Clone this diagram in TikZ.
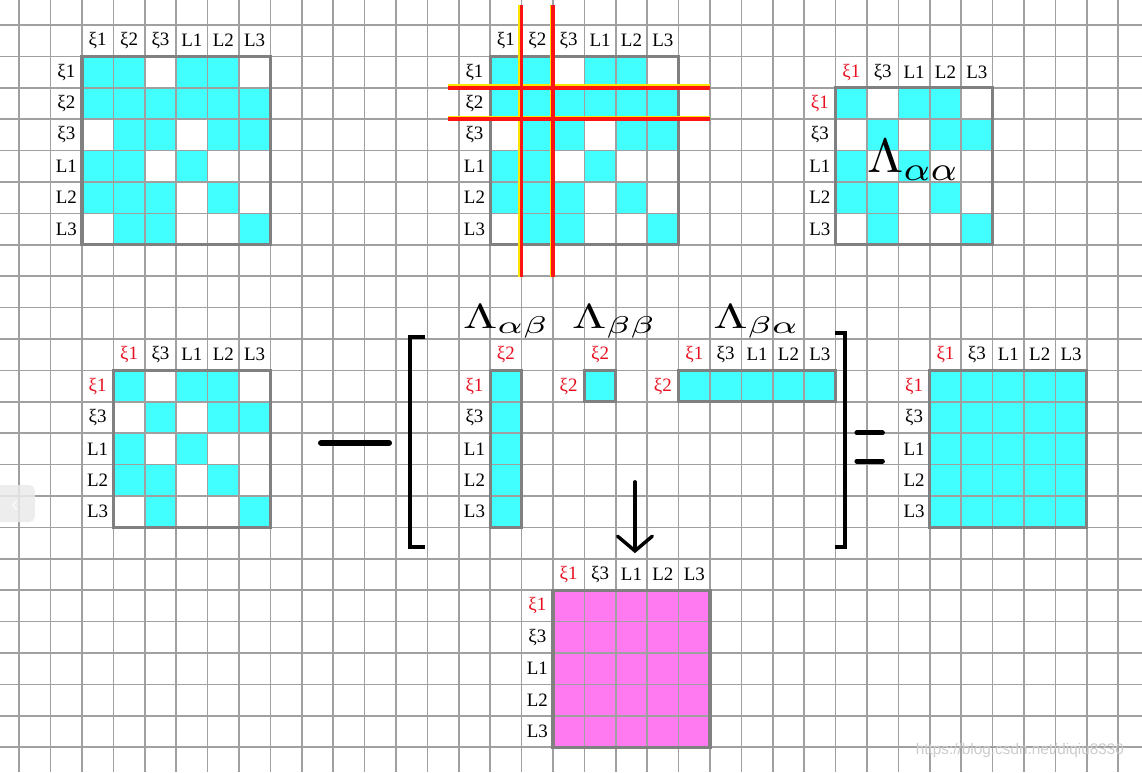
\documentclass[tikz,border=0pt]{standalone}
\usepackage{graphicx}
\usepackage{fontspec}
\newfontfamily\labfont{Liberation Serif}
\newfontfamily\markfont{Liberation Sans}
\usetikzlibrary{arrows.meta}

\definecolor{cellcyan}{RGB}{66,255,255}
\definecolor{cellpink}{RGB}{255,121,240}
\definecolor{gridgray}{RGB}{160,160,160}
\definecolor{boxgray}{RGB}{128,128,128}
\definecolor{labred}{RGB}{232,16,32}
\definecolor{cutred}{RGB}{255,20,20}
\definecolor{cutyellow}{RGB}{255,228,0}

% fill the 1-cells of a pattern: x, y of the top left cell, colour, rows
\newcommand{\cellfill}[4]{%
  \foreach \row [count=\j from 0] in {#4}{
    \foreach \v [count=\i from 0] in \row {
      \ifnum\v=1 \fill[#3] (#1+\i,#2+\j) rectangle ++(1,1); \fi
    }}}

\begin{document}
\begin{tikzpicture}[
  x=23.55pt, y=-23.55pt,
  gridline/.style={draw=gridgray, line width=1.2pt},
  matbox/.style={draw=boxgray, line width=2.4pt},
  lab/.style={font=\labfont\fontsize{14.2}{15}\selectfont, inner sep=0pt},
  cut/.style={draw=cutred, line width=2.8pt},
  cutshade/.style={draw=cutyellow, line width=1.4pt},
  bigsym/.style={line width=4.4pt, line cap=round},
  brack/.style={line width=3pt},
  lam/.style={inner sep=0pt, anchor=base west},
]
\fill[white] (-0.611,-0.796) rectangle (35.758,23.79);
\useasboundingbox (-0.611,-0.796) rectangle (35.758,23.79);

% coloured cells
\cellfill{2}{1}{cellcyan}{{1,1,0,1,1,0},{1,1,1,1,1,1},{0,1,1,0,1,1},{1,1,0,1,0,0},{1,1,1,0,1,0},{0,1,1,0,0,1}}
\cellfill{15}{1}{cellcyan}{{1,1,0,1,1,0},{1,1,1,1,1,1},{0,1,1,0,1,1},{1,1,0,1,0,0},{1,1,1,0,1,0},{0,1,1,0,0,1}}
\cellfill{26}{2}{cellcyan}{{1,0,1,1,0},{0,1,0,1,1},{1,0,1,0,0},{1,1,0,1,0},{0,1,0,0,1}}
\cellfill{3}{11}{cellcyan}{{1,0,1,1,0},{0,1,0,1,1},{1,0,1,0,0},{1,1,0,1,0},{0,1,0,0,1}}
\fill[cellcyan] (15,11) rectangle (16,16);
\fill[cellcyan] (18,11) rectangle (19,12);
\fill[cellcyan] (21,11) rectangle (26,12);
\fill[cellcyan] (29,11) rectangle (34,16);
\fill[cellpink] (17,18) rectangle (22,23);

% paper grid
\foreach \i in {0,...,35} \draw[gridline] (\i,-0.796) -- (\i,23.79);
\foreach \j in {0,...,23} \draw[gridline] (-0.611,\j) -- (35.758,\j);

% matrix frames
\draw[matbox] (2,1) rectangle (8,7);
\draw[matbox] (15,1) rectangle (21,7);
\draw[matbox] (26,2) rectangle (31,7);
\draw[matbox] (3,11) rectangle (8,16);
\draw[matbox] (15,11) rectangle (16,16);
\draw[matbox] (18,11) rectangle (19,12);
\draw[matbox] (21,11) rectangle (26,12);
\draw[matbox] (29,11) rectangle (34,16);
\draw[matbox] (17,18) rectangle (22,23);

% cut lines through xi2
\foreach \c in {16,17}
  \draw[cutshade] ([xshift=-1.8pt]\c,-0.64) -- ([xshift=-1.8pt]\c,8.03);
\foreach \r in {2,3}
  \draw[cutshade] ([yshift=1.8pt]13.66,\r) -- ([yshift=1.8pt]22.0,\r);
\foreach \c in {16,17}
  \draw[cut] (\c,-0.64) -- (\c,8.03);
\foreach \r in {2,3}
  \draw[cut] (13.66,\r) -- (22.0,\r);

% labels
\foreach \t [count=\i from 0] in {ξ1,ξ2,ξ3,L1,L2,L3}{
  \node[lab] (tlc\i) at (2.5+\i,0.5) {\t};
  \node[lab] (tlr\i) at (1.5,1.5+\i) {\t};
  \node[lab] (tmc\i) at (15.5+\i,0.5) {\t};
  \node[lab] (tmr\i) at (14.5,1.5+\i) {\t};
}
\foreach \t/\c [count=\i from 0] in {ξ1/labred,ξ3/black,L1/black,L2/black,L3/black}{
  \node[lab, text=\c] (trc\i) at (26.5+\i,1.5) {\t};
  \node[lab, text=\c] (trr\i) at (25.5,2.5+\i) {\t};
  \node[lab, text=\c] (blc\i) at (3.5+\i,10.5) {\t};
  \node[lab, text=\c] (blr\i) at (2.5,11.5+\i) {\t};
  \node[lab, text=\c] (abr\i) at (14.5,11.5+\i) {\t};
  \node[lab, text=\c] (bac\i) at (21.5+\i,10.5) {\t};
  \node[lab, text=\c] (resc\i) at (29.5+\i,10.5) {\t};
  \node[lab, text=\c] (resr\i) at (28.5,11.5+\i) {\t};
  \node[lab, text=\c] (pkc\i) at (17.5+\i,17.5) {\t};
  \node[lab, text=\c] (pkr\i) at (16.5,18.5+\i) {\t};
}
\node[lab, text=labred] (abc) at (15.5,10.5) {ξ2};
\node[lab, text=labred] (bbc) at (18.5,10.5) {ξ2};
\node[lab, text=labred] (bbr) at (17.5,11.5) {ξ2};
\node[lab, text=labred] (bar) at (20.5,11.5) {ξ2};

% block names
\node[lam] (lamaa) at (27.0,4.71) {\scalebox{3.9}[3.6]{$\Lambda_{\alpha\alpha}$}};
\node[lam] (lamab) at (14.13,9.65) {\scalebox{3.7}[2.6]{$\Lambda_{\alpha\beta}$}};
\node[lam] (lambb) at (17.6,9.65) {\scalebox{3.7}[2.6]{$\Lambda_{\beta\beta}$}};
\node[lam] (lamba) at (22.1,9.65) {\scalebox{3.7}[2.6]{$\Lambda_{\beta\alpha}$}};

% minus, brackets, equals
\draw[bigsym] (9.61,13.31) -- (11.78,13.31);
\draw[brack] (12.93,9.94) -- (12.45,9.94) -- (12.45,16.62) -- (12.93,16.62);
\draw[brack] (25.98,9.81) -- (26.30,9.81) -- (26.30,16.62) -- (25.98,16.62);
\draw[bigsym, line width=3.8pt] (26.68,12.99) -- (27.49,12.99);
\draw[bigsym, line width=3.8pt] (26.68,13.89) -- (27.49,13.89);

% product goes down
\coordinate (arrtop) at (19.61,14.55);
\coordinate (arrtip) at (19.61,16.82);
\draw[line width=2.6pt, line cap=round,
  -{Straight Barb[length=11pt,width=26pt,line cap=round]}] (arrtop) -- (arrtip);

% screen leftovers
\fill[black!8, opacity=0.85, rounded corners=4pt] (-0.8,14.65) rectangle (0.50,15.83);
\draw[white, line width=0.8pt] (-0.08,15.15) -- (-0.2,15.29) -- (-0.08,15.43);
\node[font=\markfont\fontsize{11.5}{12}\selectfont, text=gray!40, inner sep=0pt]
  (mark) at (31.87,23.09) {https://blog.csdn.net/diqiu8330};
\end{tikzpicture}
\end{document}
